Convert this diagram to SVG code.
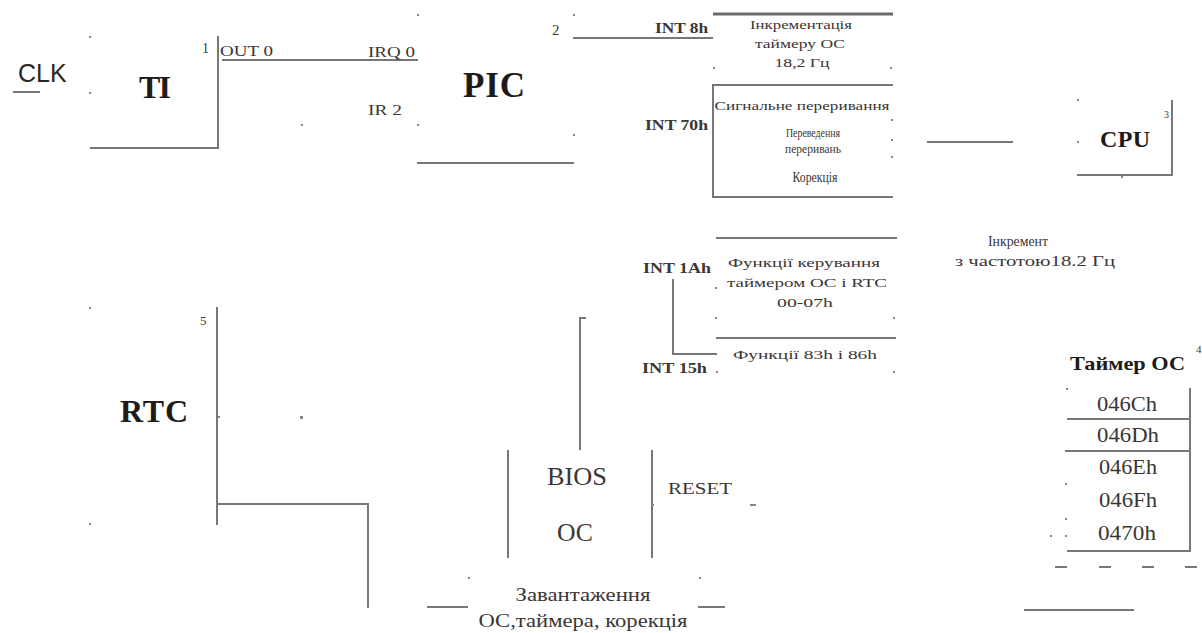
<svg xmlns="http://www.w3.org/2000/svg" width="1202" height="633" viewBox="0 0 1202 633">
<style>
.ln{stroke:#7a7673;stroke-width:2;fill:none}
.th{stroke:#6e6a67;stroke-width:3;fill:none}
.big{font-family:"Liberation Serif",serif;font-weight:bold;fill:#1f1b19}
.t{font-family:"Liberation Serif",serif;fill:#3a3634}
.tb{font-family:"Liberation Serif",serif;font-weight:bold;fill:#3a3634}
.dot{fill:#8a8683}
</style>
<rect width="1202" height="633" fill="#ffffff"/>
<g id="connectors">
<line class="ln" x1="13" y1="92" x2="40" y2="92"/>
<line class="ln" x1="218" y1="36" x2="218" y2="149"/>
<line class="ln" x1="90" y1="148" x2="219" y2="148"/>
<line class="ln" x1="222" y1="60" x2="418" y2="60"/>
<line class="ln" x1="573" y1="38" x2="713" y2="38"/>
<line class="ln" x1="927" y1="142" x2="1013" y2="142"/>
<polyline class="ln" points="673,279 673,354 717,354"/>
<polyline class="ln" points="217,307 217,525"/>
<polyline class="ln" points="217,504 368,504 368,608"/>
<polyline class="ln" points="586,318 580,318 580,450"/>
<line class="ln" x1="427" y1="607" x2="468" y2="607"/>
<line class="ln" x1="698" y1="607" x2="725" y2="607"/>
<line class="ln" x1="1024" y1="610" x2="1134" y2="610"/>
<g class="ln" stroke-width="2">
<line x1="1055" y1="567" x2="1067" y2="567"/>
<line x1="1099" y1="567" x2="1111" y2="567"/>
<line x1="1142" y1="567" x2="1154" y2="567"/>
<line x1="1185" y1="567" x2="1197" y2="567"/>
</g>
</g>
<g id="clk">
<text x="18" y="82" font-family="Liberation Sans, sans-serif" font-size="25" fill="#2a2624">CLK</text>
</g>
<g id="ti">
<text class="big" x="139" y="98" font-size="32" textLength="32">TI</text>
<text class="t" x="202" y="53" font-size="14">1</text>
<text class="t" x="220" y="56" font-size="14" textLength="53" lengthAdjust="spacingAndGlyphs">OUT 0</text>
<rect class="dot" x="89" y="36" width="2" height="2"/>
<rect class="dot" x="89" y="92" width="2" height="2"/>
</g>
<g id="pic">
<line class="ln" x1="417" y1="163" x2="574" y2="163"/>
<text class="big" x="463" y="97" font-size="35" textLength="62">PIC</text>
<text class="t" x="368" y="57" font-size="14" textLength="47" lengthAdjust="spacingAndGlyphs">IRQ 0</text>
<text class="t" x="368" y="115" font-size="14" textLength="34" lengthAdjust="spacingAndGlyphs">IR 2</text>
<text class="t" x="552" y="35" font-size="15">2</text>
<rect class="dot" x="417" y="14" width="2" height="2"/>
<rect class="dot" x="417" y="124" width="2" height="2"/>
<rect class="dot" x="573" y="14" width="2" height="2"/>
<rect class="dot" x="573" y="134" width="2" height="2"/>
<rect class="dot" x="301" y="124" width="2" height="2"/>
</g>
<g id="int8">
<line class="th" x1="713" y1="14" x2="893" y2="14"/>
<text class="tb" x="655" y="33" font-size="15" textLength="53" lengthAdjust="spacingAndGlyphs">INT 8h</text>
<text class="t" x="801" y="29" font-size="13" text-anchor="middle" textLength="102" lengthAdjust="spacingAndGlyphs">Інкрементація</text>
<text class="t" x="800" y="48" font-size="13" text-anchor="middle" textLength="90" lengthAdjust="spacingAndGlyphs">таймеру ОС</text>
<text class="t" x="802" y="67" font-size="13" text-anchor="middle" textLength="55" lengthAdjust="spacingAndGlyphs">18,2 Гц</text>
<rect class="dot" x="713" y="67" width="2" height="2"/>
<rect class="dot" x="890" y="67" width="2" height="2"/>
</g>
<g id="int70">
<polyline class="ln" points="893,85 713,85 713,197 893,197"/>
<text class="tb" x="645" y="130" font-size="15" textLength="63" lengthAdjust="spacingAndGlyphs">INT 70h</text>
<text class="t" x="802" y="110" font-size="13" text-anchor="middle" textLength="175" lengthAdjust="spacingAndGlyphs">Сигнальне переривання</text>
<text class="t" x="813" y="137" font-size="13" text-anchor="middle" textLength="54" lengthAdjust="spacingAndGlyphs">Переведення</text>
<text class="t" x="813" y="153" font-size="13" text-anchor="middle" textLength="56" lengthAdjust="spacingAndGlyphs">переривань</text>
<text class="t" x="815" y="182" font-size="14" text-anchor="middle" textLength="45" lengthAdjust="spacingAndGlyphs">Корекція</text>
<rect class="dot" x="891" y="119" width="2" height="2"/>
<rect class="dot" x="891" y="139" width="2" height="2"/>
<rect class="dot" x="891" y="156" width="2" height="2"/>
</g>
<g id="cpu">
<polyline class="ln" points="1172,100 1172,175 1077,175"/>
<text class="big" x="1100" y="147" font-size="24" textLength="50">CPU</text>
<text class="t" x="1164" y="118" font-size="10">3</text>
<rect class="dot" x="1077" y="99" width="2" height="2"/>
<rect class="dot" x="1077" y="141" width="2" height="2"/>
<rect class="dot" x="1121" y="176" width="2" height="2"/>
</g>
<g id="increment">
<text class="t" x="1018" y="246" font-size="14" text-anchor="middle" textLength="60" lengthAdjust="spacingAndGlyphs">Інкремент</text>
<text class="t" x="1035" y="266" font-size="14" text-anchor="middle" textLength="160" lengthAdjust="spacingAndGlyphs">з частотою18.2 Гц</text>
</g>
<g id="int1a">
<line class="ln" x1="716" y1="238" x2="897" y2="238"/>
<text class="tb" x="643" y="273" font-size="15" textLength="68" lengthAdjust="spacingAndGlyphs">INT 1Ah</text>
<text class="t" x="804" y="267" font-size="13" text-anchor="middle" textLength="152" lengthAdjust="spacingAndGlyphs">Функції керування</text>
<text class="t" x="807" y="287" font-size="13" text-anchor="middle" textLength="160" lengthAdjust="spacingAndGlyphs">таймером ОС і RTC</text>
<text class="t" x="805" y="307" font-size="13" text-anchor="middle" textLength="56" lengthAdjust="spacingAndGlyphs">00-07h</text>
<rect class="dot" x="715" y="287" width="2" height="2"/>
<rect class="dot" x="715" y="317" width="2" height="2"/>
<rect class="dot" x="893" y="317" width="2" height="2"/>
</g>
<g id="int15">
<line class="ln" x1="716" y1="338" x2="896" y2="338"/>
<text class="tb" x="642" y="373" font-size="15" textLength="65" lengthAdjust="spacingAndGlyphs">INT 15h</text>
<text class="t" x="805" y="359" font-size="13" text-anchor="middle" textLength="144" lengthAdjust="spacingAndGlyphs">Функції 83h і 86h</text>
<rect class="dot" x="716" y="371" width="2" height="2"/>
<rect class="dot" x="893" y="371" width="2" height="2"/>
</g>
<g id="rtc">
<text class="big" x="120" y="422" font-size="32" textLength="68">RTC</text>
<text class="t" x="200" y="325" font-size="13">5</text>
<rect class="dot" x="89" y="307" width="2" height="2"/>
<rect class="dot" x="89" y="523" width="2" height="2"/>
<rect class="dot" x="300" y="416" width="3" height="3"/>
<rect class="dot" x="218" y="416" width="2" height="2"/>
</g>
<g id="bios">
<line class="ln" x1="508" y1="450" x2="508" y2="558"/>
<line class="ln" x1="652" y1="450" x2="652" y2="558"/>
<text class="t" x="577" y="485" font-size="25" text-anchor="middle" textLength="60" lengthAdjust="spacingAndGlyphs">BIOS</text>
<text class="t" x="575" y="541" font-size="25" text-anchor="middle" textLength="36" lengthAdjust="spacingAndGlyphs">ОС</text>
<text class="t" x="668" y="494" font-size="17" textLength="64" lengthAdjust="spacingAndGlyphs">RESET</text>
<rect class="dot" x="651" y="504" width="3" height="2"/>
<rect class="dot" x="750" y="504" width="6" height="2"/>
</g>
<g id="load">
<text class="t" x="583" y="601" font-size="18" text-anchor="middle" textLength="135" lengthAdjust="spacingAndGlyphs">Завантаження</text>
<text class="t" x="583" y="627" font-size="18" text-anchor="middle" textLength="209" lengthAdjust="spacingAndGlyphs">ОС,таймера, корекція</text>
<rect class="dot" x="468" y="577" width="2" height="2"/>
<rect class="dot" x="699" y="577" width="2" height="2"/>
</g>
<g id="timer-os">
<text class="big" x="1070" y="370" font-size="19" textLength="115" lengthAdjust="spacingAndGlyphs">Таймер ОС</text>
<text class="t" x="1196" y="353" font-size="11">4</text>
<polyline class="ln" points="1190,388 1190,551 1067,551"/>
<line class="ln" x1="1067" y1="419" x2="1190" y2="419"/>
<line class="ln" x1="1065" y1="451" x2="1190" y2="451"/>
<g class="t" font-size="20" text-anchor="middle">
<text x="1127" y="411" textLength="60" lengthAdjust="spacingAndGlyphs">046Ch</text>
<text x="1128" y="442" textLength="62" lengthAdjust="spacingAndGlyphs">046Dh</text>
<text x="1128" y="474" textLength="58" lengthAdjust="spacingAndGlyphs">046Eh</text>
<text x="1128" y="507" textLength="58" lengthAdjust="spacingAndGlyphs">046Fh</text>
<text x="1127" y="540" textLength="58" lengthAdjust="spacingAndGlyphs">0470h</text>
</g>
<rect class="dot" x="1066" y="388" width="2" height="2"/>
<rect class="dot" x="1065" y="483" width="2" height="2"/>
<rect class="dot" x="1065" y="518" width="2" height="2"/>
<rect class="dot" x="1050" y="535" width="2" height="2"/>
<rect class="dot" x="1065" y="535" width="2" height="2"/>
</g>
</svg>
